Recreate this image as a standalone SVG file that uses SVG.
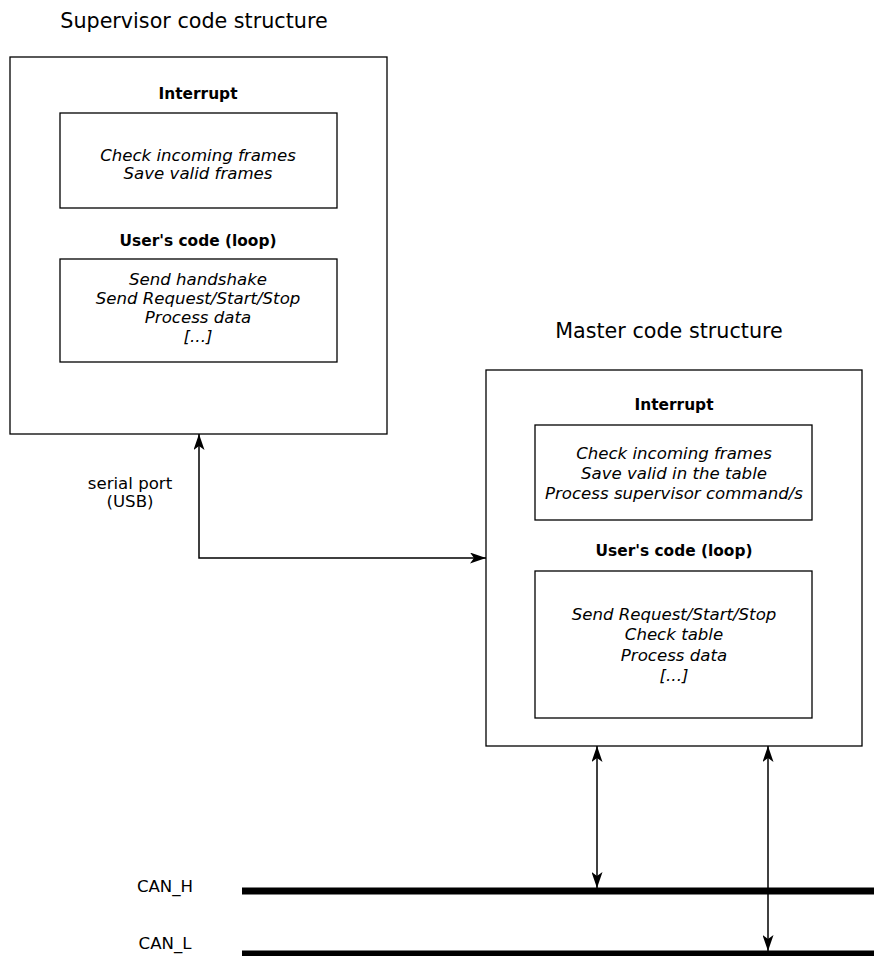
<svg xmlns="http://www.w3.org/2000/svg" width="874" height="956" viewBox="0 0 874 956">
  <style>
    .box { fill: #fff; stroke: #000; stroke-width: 1.3; }
    .title { font-family: "DejaVu Sans", sans-serif; font-size: 20.7px; text-anchor: middle; fill: #000; }
    .head { font-family: "DejaVu Sans", sans-serif; font-size: 15.4px; font-weight: bold; text-anchor: middle; fill: #000; }
    .body { font-family: "DejaVu Sans", sans-serif; font-size: 16.6px; font-style: italic; text-anchor: middle; fill: #000; }
    .label { font-family: "DejaVu Sans", sans-serif; font-size: 16.6px; text-anchor: middle; fill: #000; }
    .link { fill: none; stroke: #000; stroke-width: 1.5; }
    .bus { stroke: #000; stroke-width: 7; }
  </style>
  <defs>
    <marker id="arrow" viewBox="0 0 16 11" refX="16" refY="5.5" markerWidth="16" markerHeight="11" markerUnits="userSpaceOnUse" orient="auto-start-reverse">
      <path d="M0,0 L16,5.5 L0,11 L4,5.5 Z" fill="#000"/>
    </marker>
  </defs>

  <!-- Supervisor -->
  <g id="supervisor">
    <text class="title" x="194" y="28">Supervisor code structure</text>
    <rect class="box" x="10" y="57" width="377" height="377"/>
    <text class="head" x="198" y="99">Interrupt</text>
    <rect class="box" x="60" y="113" width="277" height="95"/>
    <text class="body" x="198" y="161">Check incoming frames</text>
    <text class="body" x="198" y="179">Save valid frames</text>
    <text class="head" x="198" y="246">User's code (loop)</text>
    <rect class="box" x="60" y="259" width="277" height="103"/>
    <text class="body" x="198" y="285">Send handshake</text>
    <text class="body" x="198" y="304">Send Request/Start/Stop</text>
    <text class="body" x="198" y="323">Process data</text>
    <text class="body" x="198" y="342">[...]</text>
  </g>

  <!-- Master -->
  <g id="master">
    <text class="title" x="669" y="338">Master code structure</text>
    <rect class="box" x="486" y="370" width="376" height="376"/>
    <text class="head" x="674" y="410">Interrupt</text>
    <rect class="box" x="535" y="425" width="277" height="95"/>
    <text class="body" x="674" y="459">Check incoming frames</text>
    <text class="body" x="674" y="479">Save valid in the table</text>
    <text class="body" x="674" y="499">Process supervisor command/s</text>
    <text class="head" x="674" y="556">User's code (loop)</text>
    <rect class="box" x="535" y="571" width="277" height="147"/>
    <text class="body" x="674" y="620">Send Request/Start/Stop</text>
    <text class="body" x="674" y="640">Check table</text>
    <text class="body" x="674" y="661">Process data</text>
    <text class="body" x="674" y="681">[...]</text>
  </g>

  <!-- CAN bus -->
  <g id="can-bus">
    <line class="bus" x1="242" y1="891" x2="874" y2="891"/>
    <line class="bus" x1="242" y1="954" x2="874" y2="954"/>
    <text class="label" x="165" y="892">CAN_H</text>
    <text class="label" x="165" y="949">CAN_L</text>
  </g>

  <!-- Connectors -->
  <g id="connectors">
    <path class="link" d="M199,434 L199,558 L486,558" marker-start="url(#arrow)" marker-end="url(#arrow)"/>
    <text class="label" x="130" y="489">serial port</text>
    <text class="label" x="130" y="507">(USB)</text>
    <line class="link" x1="597" y1="746" x2="597" y2="888" marker-start="url(#arrow)" marker-end="url(#arrow)"/>
    <line class="link" x1="768" y1="746" x2="768" y2="951" marker-start="url(#arrow)" marker-end="url(#arrow)"/>
  </g>
</svg>
